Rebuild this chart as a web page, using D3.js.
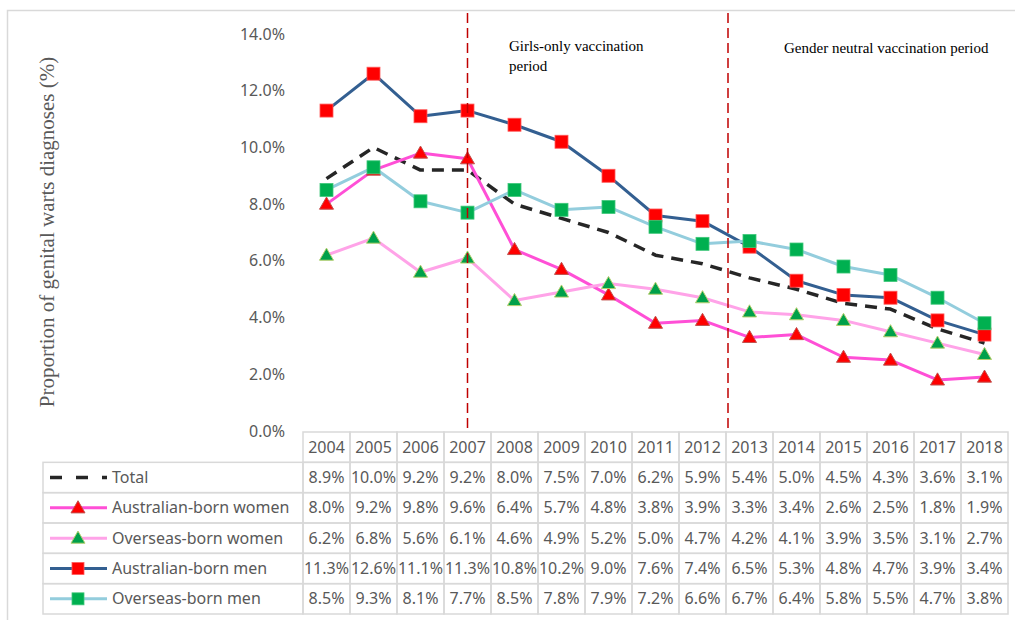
<!DOCTYPE html>
<html>
<head>
<meta charset="utf-8">
<script src="https://cdn.jsdelivr.net/npm/d3@7"></script>
<style>
  body { margin: 0; background: #fff; }
  svg { display: block; }
</style>
</head>
<body>
<svg id="chart" width="1015" height="620"></svg>
<script>
// data
const years = [2004, 2005, 2006, 2007, 2008, 2009, 2010, 2011, 2012, 2013, 2014, 2015, 2016, 2017, 2018];
const total     = [8.9, 10.0, 9.2, 9.2, 8.0, 7.5, 7.0, 6.2, 5.9, 5.4, 5.0, 4.5, 4.3, 3.6, 3.1];
const ausWomen  = [8.0, 9.2, 9.8, 9.6, 6.4, 5.7, 4.8, 3.8, 3.9, 3.3, 3.4, 2.6, 2.5, 1.8, 1.9];
const overWomen = [6.2, 6.8, 5.6, 6.1, 4.6, 4.9, 5.2, 5.0, 4.7, 4.2, 4.1, 3.9, 3.5, 3.1, 2.7];
const ausMen    = [11.3, 12.6, 11.1, 11.3, 10.8, 10.2, 9.0, 7.6, 7.4, 6.5, 5.3, 4.8, 4.7, 3.9, 3.4];
const overMen   = [8.5, 9.3, 8.1, 7.7, 8.5, 7.8, 7.9, 7.2, 6.6, 6.7, 6.4, 5.8, 5.5, 4.7, 3.8];
const yTicks = [0, 2, 4, 6, 8, 10, 12, 14];
const seriesNames = ["Total", "Australian-born women", "Overseas-born women", "Australian-born men", "Overseas-born men"];

// series look
const series = [
  { name: seriesNames[0], values: total, color: "#262626", dash: "12,8", marker: null },
  { name: seriesNames[1], values: ausWomen, color: "#ff4fd6", marker: "tri", fill: "#ff0000", edge: "#c0504d" },
  { name: seriesNames[2], values: overWomen, color: "#ffa3e8", marker: "tri", fill: "#00a04a", edge: "#b5cf6e" },
  { name: seriesNames[3], values: ausMen, color: "#335f91", marker: "sq", fill: "#ff0000", edge: "#ff5a5a" },
  { name: seriesNames[4], values: overMen, color: "#93cddd", marker: "sq", fill: "#00b050", edge: "#3fc77a" }
];

const svg = d3.select("#chart");
const uiFont = "'Noto Sans', 'Open Sans', sans-serif";
const serif = "'Liberation Serif', 'Times New Roman', serif";
const grid = "#d9d9d9";
const txt = "#595959";

// outer frame
svg.append("rect")
  .attr("x", 7.5).attr("y", 10.5)
  .attr("width", 1030).attr("height", 640)
  .attr("fill", "none").attr("stroke", grid).attr("stroke-width", 1.5);

const x = d3.scaleBand().domain(years).range([303, 1008]).padding(0);
const y = d3.scaleLinear().domain([0, 14]).range([431, 34]);
const cx = yr => x(yr) + x.bandwidth() / 2;

// y axis labels
const yAxis = d3.axisLeft(y).tickValues(yTicks).tickSize(0).tickPadding(18)
  .tickFormat(d => d.toFixed(1) + "%");
const ya = svg.append("g").attr("transform", "translate(303,0)").call(yAxis);
ya.select(".domain").remove();
ya.selectAll("text").attr("font-family", uiFont).attr("font-size", 16).attr("fill", txt);

// y title
svg.append("text")
  .attr("transform", "translate(54,232) rotate(-90)")
  .attr("text-anchor", "middle")
  .attr("font-family", serif).attr("font-size", 21).attr("fill", txt)
  .text("Proportion of genital warts diagnoses (%)");

// lines + markers
const line = d3.line().x((d, i) => cx(years[i])).y(d => y(d));
const tri = d3.symbol().type(d3.symbolTriangle).size(85);

series.forEach(s => {
  svg.append("path")
    .attr("d", line(s.values))
    .attr("fill", "none")
    .attr("stroke", s.color)
    .attr("stroke-width", s.dash ? 3.5 : 3)
    .attr("stroke-dasharray", s.dash || null)
    .attr("stroke-linejoin", "round");
  if (s.marker === "sq") {
    svg.append("g").selectAll("rect").data(s.values).enter().append("rect")
      .attr("x", (d, i) => cx(years[i]) - 6.5)
      .attr("y", d => y(d) - 6.5)
      .attr("width", 13).attr("height", 13)
      .attr("fill", s.fill).attr("stroke", s.edge).attr("stroke-width", 0.8);
  } else if (s.marker === "tri") {
    svg.append("g").selectAll("path").data(s.values).enter().append("path")
      .attr("d", tri)
      .attr("transform", (d, i) => `translate(${cx(years[i])},${y(d) + 1})`)
      .attr("fill", s.fill).attr("stroke", s.edge).attr("stroke-width", 1);
  }
});

// period dividers: start of girls-only (2007) and gender neutral (2013)
[cx(2007), x(2013) + 2].forEach(px => {
  svg.append("line")
    .attr("x1", px).attr("x2", px)
    .attr("y1", 13).attr("y2", 431)
    .attr("stroke", "#c00000").attr("stroke-width", 1.5)
    .attr("stroke-dasharray", "10,5");
});

// period notes
const note = svg.append("g").attr("font-family", serif).attr("font-size", 15).attr("fill", "#000");
note.append("text").attr("x", 509).attr("y", 51).text("Girls-only vaccination");
note.append("text").attr("x", 509).attr("y", 71).text("period");
note.append("text").attr("x", 784).attr("y", 53).text("Gender neutral vaccination period");

// data table
const rowKeys = ["head"].concat(seriesNames);
const ry = d3.scaleBand().domain(rowKeys).range([432, 614]);
const tbl = svg.append("g").attr("font-family", uiFont).attr("font-size", 16).attr("fill", txt);

// header cells
years.forEach(yr => {
  tbl.append("rect").attr("x", x(yr)).attr("y", ry("head"))
    .attr("width", x.bandwidth()).attr("height", ry.bandwidth())
    .attr("fill", "none").attr("stroke", grid).attr("stroke-width", 1.5);
  tbl.append("text").attr("x", cx(yr)).attr("y", ry("head") + ry.bandwidth() / 2)
    .attr("dy", "0.35em").attr("text-anchor", "middle").text(yr);
});

series.forEach(s => {
  const top = ry(s.name), h = ry.bandwidth(), mid = top + h / 2;
  tbl.append("rect").attr("x", 43).attr("y", top)
    .attr("width", 303 - 43).attr("height", h)
    .attr("fill", "none").attr("stroke", grid).attr("stroke-width", 1.5);
  years.forEach((yr, i) => {
    tbl.append("rect").attr("x", x(yr)).attr("y", top)
      .attr("width", x.bandwidth()).attr("height", h)
      .attr("fill", "none").attr("stroke", grid).attr("stroke-width", 1.5);
    tbl.append("text").attr("x", cx(yr)).attr("y", mid)
      .attr("dy", "0.35em").attr("text-anchor", "middle")
      .text(s.values[i].toFixed(1) + "%");
  });
  // legend key
  tbl.append("line").attr("x1", 50).attr("x2", 107).attr("y1", mid).attr("y2", mid)
    .attr("stroke", s.color).attr("stroke-width", s.dash ? 3.5 : 3)
    .attr("stroke-dasharray", s.dash ? "12,14" : null);
  if (s.marker === "sq") {
    tbl.append("rect").attr("x", 72).attr("y", mid - 6).attr("width", 12).attr("height", 12)
      .attr("fill", s.fill).attr("stroke", s.edge).attr("stroke-width", 0.8);
  } else if (s.marker === "tri") {
    tbl.append("path").attr("d", tri).attr("transform", `translate(78,${mid + 1})`)
      .attr("fill", s.fill).attr("stroke", s.edge).attr("stroke-width", 1);
  }
  tbl.append("text").attr("x", 112).attr("y", mid).attr("dy", "0.35em").text(s.name);
});
</script>
</body>
</html>
